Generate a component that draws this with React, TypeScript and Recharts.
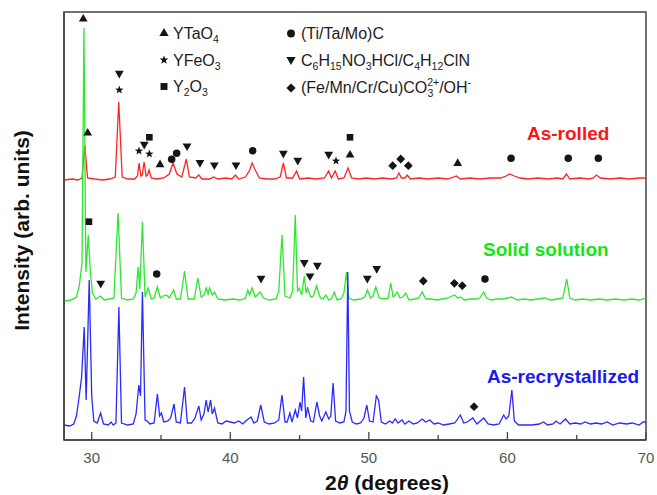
import React from "react";
import { ComposedChart, Line, Scatter, XAxis, YAxis, ReferenceArea } from "recharts";

const FONT = '"Liberation Sans", Arial, Helvetica, sans-serif';

const xTicks = [30, 35, 40, 45, 50, 55, 60, 65, 70];
const xLabels = [30, 40, 50, 60, 70];

// [2theta, intensity above the pattern's own baseline]
const asRolled: [number, number][] = [
  [28.0, 0], [28.6, 1], [29.0, 0], [29.3, 2], [29.5, 35], [29.7, 2], [30.2, 1], [30.8, 0],
  [31.3, 1], [31.7, 3], [31.95, 78], [32.2, 3], [32.6, 1], [33.1, 1], [33.3, 4], [33.42, 17],
  [33.55, 4], [33.65, 5], [33.78, 18], [33.92, 4], [34.02, 5], [34.14, 10], [34.3, 2], [34.7, 1],
  [35.2, 2], [35.6, 6], [35.87, 17], [36.15, 6], [36.5, 3], [36.83, 21], [37.05, 3], [37.5, 2],
  [37.73, 5], [37.95, 1], [38.5, 1], [38.8, 3], [39.1, 1], [39.7, 2], [40.1, 1], [40.37, 5],
  [40.6, 1], [41.1, 3], [41.4, 10], [41.57, 17], [41.8, 10], [42.1, 2], [42.6, 1], [43.2, 1],
  [43.6, 3], [43.83, 17], [44.05, 2], [44.5, 2], [44.78, 9], [45.0, 1], [45.6, 2], [46.2, 1],
  [46.8, 2], [47.09, 9], [47.3, 2], [47.57, 9], [47.8, 1], [48.2, 2], [48.5, 12], [48.75, 2],
  [49.3, 1], [49.8, 2], [50.4, 1], [51.0, 2], [51.6, 1], [52.0, 2], [52.17, 7], [52.35, 2],
  [52.6, 2], [52.77, 5], [53.0, 1], [53.6, 2], [54.3, 1], [55.0, 2], [55.7, 1], [56.32, 4],
  [56.6, 1], [57.3, 2], [58.0, 1], [58.8, 2], [59.5, 2], [59.9, 4], [60.16, 6], [60.5, 4],
  [60.9, 2], [61.5, 1], [62.2, 2], [62.9, 1], [63.6, 2], [64.0, 1], [64.26, 6], [64.5, 1],
  [65.2, 2], [65.9, 1], [66.2, 2], [66.42, 5], [66.7, 2], [67.4, 1], [68.1, 2], [68.8, 1],
  [69.5, 2], [70.0, 2],
];

const solidSolution: [number, number][] = [
  [28.0, 0], [28.5, 1], [28.9, 4], [29.1, 15], [29.3, 38], [29.44, 273], [29.58, 29], [29.75, 66],
  [29.9, 30], [30.05, 8], [30.3, 2], [30.64, 5], [30.9, 1], [31.3, 2], [31.6, 3], [31.9, 88],
  [32.15, 3], [32.6, 1], [33.0, 2], [33.2, 8], [33.35, 34], [33.47, 12], [33.66, 79], [33.85, 4],
  [34.07, 13], [34.3, 2], [34.5, 3], [34.74, 14], [34.95, 3], [35.15, 5], [35.4, 6], [35.6, 3],
  [35.91, 11], [36.1, 2], [36.4, 2], [36.7, 30], [36.95, 2], [37.4, 2], [37.66, 23], [37.9, 4],
  [38.1, 6], [38.26, 13], [38.4, 7], [38.5, 13], [38.7, 6], [38.86, 9], [39.1, 2], [39.6, 1],
  [40.2, 2], [40.7, 1], [41.1, 3], [41.26, 11], [41.4, 6], [41.57, 13], [41.8, 4], [42.15, 9],
  [42.4, 3], [42.8, 1], [43.3, 2], [43.5, 10], [43.73, 66], [43.95, 5], [44.3, 3], [44.5, 10],
  [44.69, 86], [44.85, 10], [44.98, 13], [45.15, 6], [45.34, 25], [45.48, 8], [45.58, 13], [45.8, 4],
  [46.0, 5], [46.22, 15], [46.5, 3], [46.7, 2], [46.9, 6], [47.1, 1], [47.3, 2], [47.5, 9],
  [47.7, 1], [48.0, 2], [48.2, 8], [48.38, 29], [48.55, 3], [48.9, 1], [49.4, 2], [49.7, 4],
  [49.9, 11], [50.1, 3], [50.3, 5], [50.5, 14], [50.75, 3], [51.1, 2], [51.4, 3], [51.58, 18],
  [51.75, 4], [51.9, 6], [52.05, 9], [52.25, 3], [52.45, 4], [52.65, 8], [52.9, 1], [53.3, 2],
  [53.6, 3], [53.85, 9], [54.1, 2], [54.5, 2], [54.9, 1], [55.3, 2], [55.7, 3], [56.0, 5],
  [56.2, 6], [56.4, 3], [56.6, 4], [56.9, 1], [57.3, 2], [57.8, 2], [58.0, 3], [58.29, 9],
  [58.5, 3], [58.8, 1], [59.3, 2], [59.7, 2], [60.0, 3], [60.3, 4], [60.7, 1], [61.2, 2],
  [61.7, 1], [62.2, 2], [62.7, 3], [63.1, 1], [63.6, 2], [64.0, 3], [64.28, 22], [64.5, 3],
  [64.9, 1], [65.4, 2], [66.0, 1], [66.6, 2], [67.2, 1], [67.8, 2], [68.4, 1], [69.0, 2],
  [69.5, 1], [70.0, 3],
];

const asRecrystallized: [number, number][] = [
  [28.0, 1], [28.4, 0], [28.7, 2], [28.9, 10], [29.1, 30], [29.27, 49], [29.46, 99], [29.6, 26],
  [29.82, 146], [30.0, 30], [30.15, 5], [30.4, 3], [30.64, 13], [30.85, 2], [31.2, 1], [31.4, 4],
  [31.55, 1], [31.75, 3], [31.96, 119], [32.15, 3], [32.6, 1], [33.0, 2], [33.2, 12], [33.4, 41],
  [33.52, 30], [33.66, 134], [33.85, 6], [34.0, 5], [34.2, 2], [34.5, 3], [34.74, 32], [34.9, 10],
  [35.03, 13], [35.2, 4], [35.5, 5], [35.7, 8], [35.94, 22], [36.1, 4], [36.4, 3], [36.7, 39],
  [36.9, 3], [37.2, 3], [37.45, 8], [37.73, 20], [37.9, 6], [38.1, 12], [38.26, 26], [38.4, 14],
  [38.58, 26], [38.7, 12], [38.86, 18], [39.1, 3], [39.4, 2], [39.7, 5], [40.0, 4], [40.3, 3],
  [40.6, 5], [40.9, 2], [41.2, 6], [41.5, 9], [41.7, 3], [41.95, 5], [42.2, 21], [42.45, 4],
  [42.8, 2], [43.2, 3], [43.5, 6], [43.73, 31], [43.95, 4], [44.1, 4], [44.3, 13], [44.45, 4],
  [44.69, 16], [44.85, 8], [45.03, 24], [45.15, 15], [45.29, 49], [45.45, 8], [45.58, 19], [45.8, 5],
  [46.0, 4], [46.25, 24], [46.45, 10], [46.6, 5], [46.9, 14], [47.1, 7], [47.25, 10], [47.42, 43],
  [47.6, 5], [47.9, 3], [48.2, 4], [48.35, 15], [48.48, 154], [48.6, 15], [48.8, 4], [49.1, 2],
  [49.4, 3], [49.65, 8], [49.85, 21], [50.05, 5], [50.3, 4], [50.54, 30], [50.7, 26], [50.9, 4],
  [51.2, 2], [51.5, 5], [51.7, 3], [51.9, 7], [52.1, 3], [52.4, 6], [52.6, 2], [52.9, 5],
  [53.2, 2], [53.5, 3], [53.85, 7], [54.1, 4], [54.4, 6], [54.7, 2], [55.0, 3], [55.4, 1],
  [55.8, 2], [56.2, 3], [56.6, 11], [56.85, 3], [57.1, 4], [57.5, 8], [57.8, 2], [58.29, 8],
  [58.6, 2], [59.0, 1], [59.4, 2], [59.73, 11], [59.9, 7], [60.1, 10], [60.32, 36], [60.5, 5],
  [60.8, 1], [61.3, 1], [61.8, 1], [62.3, 2], [62.6, 4], [62.9, 1], [63.3, 2], [63.5, 5],
  [63.8, 2], [64.2, 7], [64.5, 2], [64.9, 3], [65.3, 2], [65.6, 4], [66.0, 2], [66.4, 3],
  [66.8, 2], [67.2, 4], [67.6, 1], [68.1, 3], [68.6, 2], [69.0, 3], [69.5, 1], [69.8, 4],
  [70.0, 4],
];

// phase markers [2theta, level on the stacked intensity scale]
const markYTaO4: [number, number][] = [
  [29.39, 421.7], [29.71, 307.7], [34.93, 276], [48.64, 285.7], [56.41, 277.3],
];
const markYFeO3: [number, number][] = [
  [31.99, 350], [33.41, 289], [34.16, 286], [47.63, 279],
];
const markY2O3: [number, number][] = [
  [34.16, 302.7], [48.64, 302.7], [29.8, 218.3],
];
const markCarbide: [number, number][] = [
  [35.77, 280.7], [36.13, 286.7], [41.62, 289.3], [60.26, 281.7], [64.39, 281.7], [66.56, 281.7],
  [34.69, 166], [58.38, 161],
];
const markOrganic: [number, number][] = [
  [31.99, 366], [33.79, 295], [36.88, 293.3], [37.81, 276.7], [38.85, 274.3], [40.41, 274.3],
  [43.83, 286], [44.87, 279], [47.1, 285], [30.65, 156], [42.22, 161], [45.34, 176.7],
  [46.28, 174], [45.75, 163.3], [49.89, 161], [50.57, 170.7],
];
const markCarbonate: [number, number][] = [
  [51.72, 274.3], [52.3, 281], [52.85, 274.3], [53.93, 159], [56.17, 156.7], [56.74, 154.3],
  [57.59, 33.3],
];

const OFFSET_ROLLED = 260;
const OFFSET_SOLID = 139;
const OFFSET_RECRYST = 14;

const toRows = (arr: [number, number][], off = 0) => arr.map(([x, y]) => ({ x, y: y + off }));

type Kind = "up" | "down" | "star" | "square" | "circle" | "diamond";
const INK = "#151515";

function Mark({ kind, cx, cy, s = 1 }: { kind: Kind; cx: number; cy: number; s?: number }) {
  const r = 4.4 * s;
  if (kind === "up")
    return <polygon points={`${cx},${cy - r} ${cx - r},${cy + r * 0.75} ${cx + r},${cy + r * 0.75}`} fill={INK} />;
  if (kind === "down")
    return <polygon points={`${cx - r},${cy - r * 0.75} ${cx + r},${cy - r * 0.75} ${cx},${cy + r}`} fill={INK} />;
  if (kind === "circle") return <circle cx={cx} cy={cy} r={r * 0.85} fill={INK} />;
  if (kind === "square")
    return <rect x={cx - r * 0.75} y={cy - r * 0.75} width={r * 1.5} height={r * 1.5} fill={INK} />;
  if (kind === "diamond")
    return <polygon points={`${cx},${cy - r} ${cx + r},${cy} ${cx},${cy + r} ${cx - r},${cy}`} fill={INK} />;
  const pts: string[] = [];
  for (let i = 0; i < 10; i++) {
    const a = -Math.PI / 2 + (i * Math.PI) / 5;
    const rr = i % 2 === 0 ? r : r * 0.42;
    pts.push(`${cx + rr * Math.cos(a)},${cy + rr * Math.sin(a)}`);
  }
  return <polygon points={pts.join(" ")} fill={INK} />;
}

const AxisTick = (props: any) => {
  const { x, y, payload } = props;
  const major = xLabels.includes(payload.value);
  return (
    <g>
      <line x1={x} x2={x} y1={y} y2={y - (major ? 8 : 5)} stroke="#444" strokeWidth={1.3} />
      {major && (
        <text x={x} y={y + 23} textAnchor="middle" fontSize={15} fill="#555" fontFamily={FONT}>
          {payload.value}
        </text>
      )}
    </g>
  );
};

const markerSets: { kind: Kind; data: [number, number][] }[] = [
  { kind: "up", data: markYTaO4 },
  { kind: "star", data: markYFeO3 },
  { kind: "square", data: markY2O3 },
  { kind: "circle", data: markCarbide },
  { kind: "down", data: markOrganic },
  { kind: "diamond", data: markCarbonate },
];

// text segments: n = normal, b = subscript, p = superscript; optional dx
type Seg = [string, "n" | "b" | "p", number?];
function Rich({ x, y, parts }: { x: number; y: number; parts: Seg[] }) {
  let level = 0;
  return (
    <text x={x} y={y}>
      {parts.map(([t, k, dx], i) => {
        const target = k === "b" ? 4 : k === "p" ? -7 : 0;
        const dy = target - level;
        level = target;
        return (
          <tspan key={i} dy={dy} dx={dx} fontSize={k === "n" ? undefined : 10.5}>
            {t}
          </tspan>
        );
      })}
    </text>
  );
}

export default function App() {
  const frame = "#444";
  return (
    <div style={{ position: "absolute", left: 0, top: 0, width: 657, height: 495, background: "#fff" }}>
      <ComposedChart width={657} height={495} margin={{ top: 12, right: 11, bottom: 0, left: 0 }}>
        <XAxis
          dataKey="x"
          type="number"
          domain={[28, 70]}
          allowDataOverflow
          ticks={xTicks}
          tick={<AxisTick />}
          tickLine={false}
          tickSize={0}
          tickMargin={0}
          height={55}
          axisLine={{ stroke: frame, strokeWidth: 1.5 }}
        />
        <YAxis
          dataKey="y"
          type="number"
          domain={[0, 428]}
          allowDataOverflow
          tick={false}
          tickLine={false}
          width={64}
          axisLine={{ stroke: frame, strokeWidth: 1.5 }}
        />
        <ReferenceArea
          x1={28}
          x2={70}
          y1={0}
          y2={428}
          fill="none"
          fillOpacity={0}
          stroke={frame}
          strokeWidth={1.5}
          ifOverflow="visible"
        />
        <Line
          data={toRows(asRolled, OFFSET_ROLLED)}
          dataKey="y"
          stroke="#ff2424"
          strokeWidth={1.3}
          dot={false}
          isAnimationActive={false}
        />
        <Line
          data={toRows(solidSolution, OFFSET_SOLID)}
          dataKey="y"
          stroke="#2ee82e"
          strokeWidth={1.3}
          dot={false}
          isAnimationActive={false}
        />
        <Line
          data={toRows(asRecrystallized, OFFSET_RECRYST)}
          dataKey="y"
          stroke="#2a2aff"
          strokeWidth={1.3}
          dot={false}
          isAnimationActive={false}
        />
        {markerSets.map((m) => (
          <Scatter
            key={m.kind}
            data={toRows(m.data)}
            dataKey="y"
            isAnimationActive={false}
            shape={(p: any) => <Mark kind={m.kind} cx={p.cx} cy={p.cy} />}
          />
        ))}
      </ComposedChart>

      <svg
        width={657}
        height={495}
        style={{ position: "absolute", left: 0, top: 0, pointerEvents: "none" }}
        fontFamily={FONT}
      >
        {/* legend */}
        <g fill="#1c1c1c" fontSize={16}>
          <Mark kind="up" cx={164} cy={32.5} s={1.05} />
          <Rich x={173} y={38.5} parts={[["YTaO", "n"], ["4", "b"]]} />
          <Mark kind="star" cx={164} cy={60} s={1.05} />
          <Rich x={173} y={65.5} parts={[["YFeO", "n"], ["3", "b"]]} />
          <Mark kind="square" cx={164} cy={86.5} s={1.05} />
          <Rich x={173} y={92} parts={[["Y", "n"], ["2", "b"], ["O", "n"], ["3", "b"]]} />

          <Mark kind="circle" cx={291} cy={33.5} s={1.05} />
          <Rich x={301} y={38.5} parts={[["(Ti/Ta/Mo)C", "n"]]} />
          <Mark kind="down" cx={291} cy={60.5} s={1.05} />
          <Rich
            x={301}
            y={65.5}
            parts={[
              ["C", "n"], ["6", "b"], ["H", "n"], ["15", "b"], ["NO", "n"], ["3", "b"],
              ["HCl/C", "n"], ["4", "b"], ["H", "n"], ["12", "b"], ["ClN", "n"],
            ]}
          />
          <Mark kind="diamond" cx={291} cy={88} s={1.05} />
          <Rich
            x={301}
            y={93}
            parts={[
              ["(Fe/Mn/Cr/Cu)CO", "n"], ["2+", "p"], ["3", "b", -11.8], ["/OH", "n", 5.9], ["-", "p"],
            ]}
          />
        </g>

        {/* series labels */}
        <g fontWeight="bold" fontSize={19}>
          <text x={527} y={140} fill="#ff1414">As-rolled</text>
          <text x={483} y={256} fill="#14e614">Solid solution</text>
          <text x={487} y={383} fill="#1a1aee">As-recrystallized</text>
        </g>

        {/* axis titles */}
        <text x={387} y={490} textAnchor="middle" fontWeight="bold" fontSize={21} fill="#111">
          2<tspan fontStyle="italic">θ</tspan> (degrees)
        </text>
        <text
          x={0}
          y={0}
          transform="translate(29,230.5) rotate(-90)"
          textAnchor="middle"
          fontWeight="bold"
          fontSize={21}
          fill="#111"
        >
          Intensity (arb. units)
        </text>
      </svg>
    </div>
  );
}
